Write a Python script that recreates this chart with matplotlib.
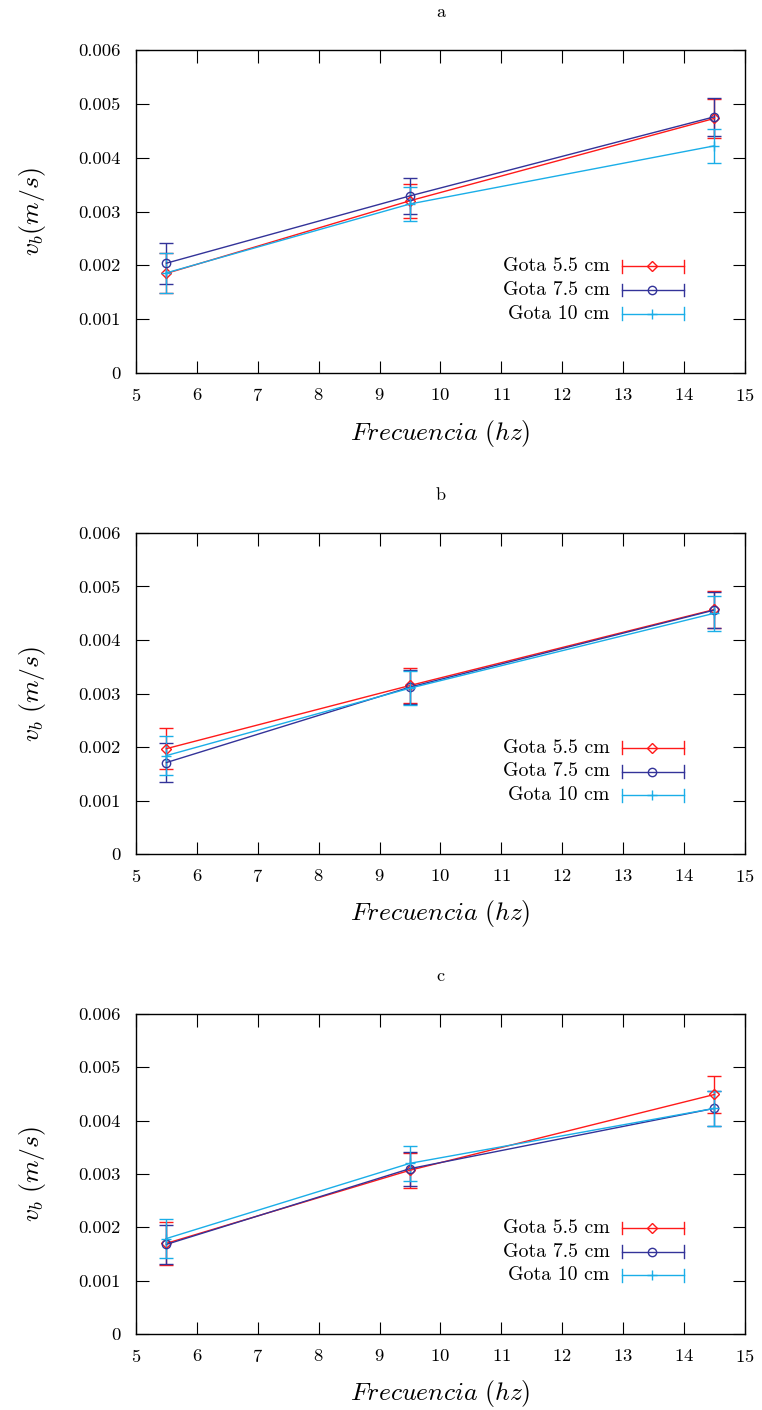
import numpy as np
import matplotlib.pyplot as plt

plt.rcParams['font.family'] = ['cmr10', 'DejaVu Serif']
plt.rcParams['mathtext.fontset'] = 'cm'
plt.rcParams['axes.formatter.use_mathtext'] = True

# Frecuencias medidas (hz)
frecuencia = [5.5, 9.5, 14.5]

# Velocidades v_b (m/s) y sus errores, por panel y altura de gota
a_55 = [0.00185, 0.00320, 0.00473]
a_55_err = [0.00037, 0.00032, 0.00036]
a_75 = [0.00204, 0.00329, 0.00476]
a_75_err = [0.00038, 0.00033, 0.00035]
a_10 = [0.00186, 0.00314, 0.00422]
a_10_err = [0.00037, 0.00032, 0.00032]

b_55 = [0.00197, 0.00315, 0.00457]
b_55_err = [0.00039, 0.00032, 0.00034]
b_75 = [0.00171, 0.00312, 0.00456]
b_75_err = [0.00037, 0.00032, 0.00034]
b_10 = [0.00184, 0.00310, 0.00450]
b_10_err = [0.00037, 0.00032, 0.00033]

c_55 = [0.00170, 0.00307, 0.00449]
c_55_err = [0.00040, 0.00033, 0.00034]
c_75 = [0.00168, 0.00310, 0.00423]
c_75_err = [0.00037, 0.00032, 0.00033]
c_10 = [0.00179, 0.00320, 0.00423]
c_10_err = [0.00036, 0.00033, 0.00033]

etiquetas = ['Gota 5.5 cm', 'Gota 7.5 cm', 'Gota 10 cm']
colores = ['#ff1a1a', '#333399', '#1aaee8']
marcadores = ['D', 'o', '+']
tam_marcador = [5, 6, 7]

yticks = [0, 0.001, 0.002, 0.003, 0.004, 0.005, 0.006]
ytick_labels = ['0', '0.001', '0.002', '0.003', '0.004', '0.005', '0.006']
xticks = list(range(5, 16))

paneles = [
    ('a', r'$v_b(m/s)$', [(a_55, a_55_err), (a_75, a_75_err), (a_10, a_10_err)]),
    ('b', r'$v_b\ (m/s)$', [(b_55, b_55_err), (b_75, b_75_err), (b_10, b_10_err)]),
    ('c', r'$v_b\ (m/s)$', [(c_55, c_55_err), (c_75, c_75_err), (c_10, c_10_err)]),
]

fig = plt.figure(figsize=(7.62, 14.1), dpi=100)
bottoms = [0.7355, 0.3943, 0.0539]
alturas = [0.229, 0.2277, 0.227]

for (titulo, ylab, series), bot, h in zip(paneles, bottoms, alturas):
    ax = fig.add_axes([0.1785, bot, 0.799, h])
    for (vals, errs), col, mk, ms in zip(series, colores, marcadores, tam_marcador):
        ax.errorbar(frecuencia, vals, yerr=errs, color=col, marker=mk, ms=ms,
                    mfc='none', mec=col, mew=1.0, lw=1.0, elinewidth=1.0,
                    capsize=4.7, capthick=1.0)

    ax.set_xlim(5, 15)
    ax.set_ylim(0, 0.006)
    ax.set_xticks(xticks)
    ax.set_yticks(yticks)
    ax.set_yticklabels(ytick_labels)
    ax.tick_params(direction='in', length=9, width=0.8, top=True, right=True,
                   labelsize=13.4)
    ax.tick_params(axis='y', pad=11)
    ax.tick_params(axis='x', pad=10)
    for s in ax.spines.values():
        s.set_linewidth(1.0)
    ax.set_xlabel(r'$Frecuencia\ (hz)$', fontsize=18.5)
    ax.set_ylabel(ylab, fontsize=18.5)
    ax.xaxis.set_label_coords(0.5, -0.186)
    ax.xaxis.label.set_va('center')
    ax.yaxis.set_label_coords(-0.17, 0.5)
    ax.yaxis.label.set_va('center')
    ax.set_title(titulo, fontsize=13, pad=24)

    # Leyenda estilo gnuplot: texto a la izquierda, muestra con topes a la derecha
    filas = [0.331, 0.257, 0.183]
    for fy, lab, col, mk, ms in zip(filas, etiquetas, colores, marcadores, tam_marcador):
        ax.text(0.778, fy, lab, transform=ax.transAxes, ha='right', va='center',
                fontsize=14.3)
        ax.plot([0.798, 0.900], [fy, fy], transform=ax.transAxes, color=col, lw=1.0)
        ax.plot([0.847], [fy], transform=ax.transAxes, color=col, marker=mk, ms=ms,
                mfc='none', mec=col, mew=1.0)
        for ex in (0.798, 0.900):
            ax.plot([ex, ex], [fy - 0.02, fy + 0.02], transform=ax.transAxes,
                    color=col, lw=1.0)

fig.savefig('out.png', dpi=100)
